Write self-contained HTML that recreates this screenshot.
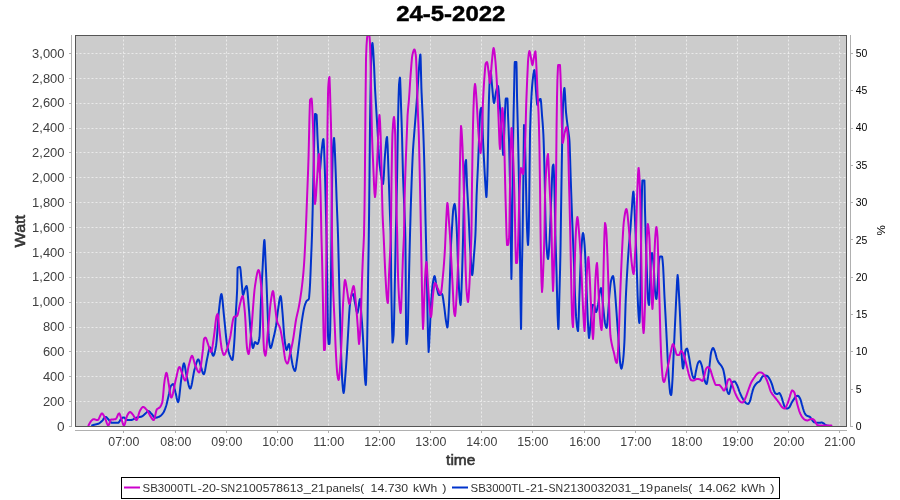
<!DOCTYPE html>
<html><head><meta charset="utf-8"><title>24-5-2022</title>
<style>html,body{margin:0;padding:0;background:#fff}svg{display:block}text{font-family:"Liberation Sans",sans-serif}text{filter:grayscale(1)}</style></head>
<body>
<svg width="900" height="500" viewBox="0 0 900 500">
<rect width="900" height="500" fill="#fff"/>
<text x="450.8" y="21.2" font-size="21.6" font-weight="bold" text-anchor="middle" textLength="109.2" lengthAdjust="spacingAndGlyphs" fill="#000" stroke="#000" stroke-width="0.45">24-5-2022</text>
<rect x="75" y="35" width="772" height="392" fill="#cccccc"/>
<path d="M75.5 426.5H847M75.5 401.5H847M75.5 376.5H847M75.5 351.5H847M75.5 327.5H847M75.5 302.5H847M75.5 277.5H847M75.5 252.5H847M75.5 227.5H847M75.5 202.5H847M75.5 177.5H847M75.5 152.5H847M75.5 128.5H847M75.5 103.5H847M75.5 78.5H847M75.5 53.5H847M123.5 35.5V427M175.5 35.5V427M226.5 35.5V427M277.5 35.5V427M328.5 35.5V427M379.5 35.5V427M430.5 35.5V427M481.5 35.5V427M532.5 35.5V427M584.5 35.5V427M635.5 35.5V427M686.5 35.5V427M737.5 35.5V427M788.5 35.5V427M839.5 35.5V427" stroke="#fff" stroke-width="0.6" stroke-dasharray="2 2" fill="none"/>
<clipPath id="c"><rect x="75" y="35" width="772" height="392"/></clipPath>
<g clip-path="url(#c)" fill="none" stroke-width="2" stroke-linejoin="round" stroke-linecap="round">
<path stroke="#0033cc" d="M92.1 425.5L92.6 425.3L93.1 425.1L93.6 425.0L94.1 424.8L94.6 424.7L94.8 424.6L95.1 424.5L95.6 424.4L96.1 424.3L96.6 424.2L97.1 424.1L97.6 424.0L98.1 423.8L98.4 423.7L98.6 423.6L99.1 423.4L99.6 423.0L100.1 422.7L100.6 422.3L101.1 421.8L101.6 421.4L102.0 421.0L102.1 420.9L102.6 420.3L103.1 419.6L103.6 418.8L104.1 418.1L104.6 417.5L105.1 417.0L105.6 416.9L105.6 416.9L106.1 417.0L106.6 417.4L107.1 417.9L107.6 418.5L108.1 419.0L108.3 419.2L108.6 419.5L109.1 420.1L109.6 420.8L110.1 421.4L110.6 422.0L111.1 422.5L111.6 422.7L111.9 422.8L112.1 422.8L112.6 422.8L113.1 422.8L113.6 422.8L114.1 422.8L114.6 422.8L115.1 422.8L115.6 422.8L116.1 422.8L116.6 422.8L117.1 422.8L117.6 422.8L118.1 422.8L118.2 422.8L118.6 422.6L119.1 422.0L119.6 421.2L120.1 420.3L120.6 419.5L120.9 419.2L121.1 419.0L121.6 418.6L122.1 418.1L122.6 417.7L123.1 417.5L123.6 417.4L123.6 417.4L124.1 417.5L124.6 417.9L125.1 418.4L125.6 419.0L126.1 419.5L126.6 419.9L127.1 420.1L127.2 420.1L127.6 420.1L128.1 420.1L128.6 420.1L129.1 420.1L129.6 420.1L130.1 420.1L130.6 420.1L130.8 420.1L131.1 420.1L131.6 420.0L132.1 419.8L132.6 419.6L133.1 419.4L133.6 419.1L134.1 418.8L134.6 418.5L135.1 418.2L135.6 418.0L136.1 417.8L136.2 417.8L136.6 417.6L137.1 417.5L137.6 417.4L138.1 417.3L138.6 417.2L139.1 417.1L139.6 417.0L140.1 416.9L140.6 416.8L141.1 416.7L141.6 416.5L141.6 416.5L142.1 416.3L142.6 416.0L143.1 415.6L143.6 415.2L144.1 414.7L144.6 414.3L145.1 413.9L145.2 413.8L145.6 413.4L146.1 412.9L146.6 412.4L147.1 411.8L147.6 411.4L148.1 411.2L148.4 411.1L148.6 411.1L149.1 411.3L149.6 411.7L150.1 412.2L150.6 412.8L151.1 413.4L151.5 413.8L151.6 413.9L152.1 414.5L152.6 415.2L153.1 415.9L153.6 416.6L154.1 417.2L154.6 417.6L155.1 417.8L155.1 417.8L155.6 417.7L156.1 417.7L156.6 417.6L157.1 417.5L157.6 417.3L158.1 417.1L158.6 416.9L159.1 416.7L159.6 416.5L159.6 416.5L160.1 416.2L160.6 415.9L161.1 415.4L161.6 414.9L162.1 414.4L162.6 413.7L163.1 413.0L163.2 412.9L163.6 412.3L164.1 411.3L164.6 410.1L165.1 408.9L165.6 407.5L165.9 406.6L166.1 406.0L166.6 404.2L167.1 402.2L167.6 400.1L168.1 397.9L168.6 395.8L168.6 395.8L169.1 393.5L169.6 390.9L170.1 388.5L170.6 386.6L170.9 385.9L171.1 385.7L171.6 385.1L172.1 384.6L172.6 384.2L173.1 384.1L173.1 384.1L173.6 384.8L174.1 386.4L174.6 388.6L175.1 390.9L175.4 392.2L175.6 392.8L176.1 395.0L176.6 397.5L177.1 399.7L177.6 401.4L178.1 402.1L178.1 402.1L178.6 401.1L179.1 398.2L179.6 394.0L180.1 389.2L180.6 384.4L181.1 380.3L181.2 379.6L181.6 376.7L182.1 372.8L182.6 368.9L183.1 365.7L183.6 363.8L183.9 363.4L184.1 363.5L184.6 365.0L185.1 367.5L185.6 370.5L186.1 373.5L186.6 376.0L186.6 376.0L187.1 378.2L187.6 380.5L188.1 382.8L188.6 384.9L189.1 386.7L189.6 388.0L190.1 388.6L190.2 388.6L190.6 388.3L191.1 387.0L191.6 385.0L192.1 382.5L192.6 379.6L193.1 376.7L193.6 373.8L194.1 371.2L194.6 369.1L194.7 368.8L195.1 367.5L195.6 365.7L196.1 364.0L196.6 362.4L197.1 361.0L197.6 360.0L198.1 359.5L198.3 359.4L198.6 359.6L199.1 360.6L199.6 362.1L200.1 364.0L200.6 365.8L201.0 367.0L201.1 367.3L201.6 368.9L202.1 370.7L202.6 372.3L203.1 373.6L203.6 374.2L203.7 374.2L204.1 373.8L204.6 372.4L205.1 370.2L205.6 367.4L206.1 364.4L206.6 361.5L207.1 358.9L207.3 358.0L207.6 356.6L208.1 354.0L208.6 351.4L209.1 349.2L209.6 347.6L210.0 347.2L210.1 347.2L210.6 348.0L211.1 349.5L211.6 351.4L212.1 353.4L212.6 355.0L213.1 355.8L213.2 355.8L213.6 355.6L214.1 354.6L214.6 352.9L215.1 350.7L215.6 348.2L216.0 346.0L216.1 345.4L216.6 341.0L217.1 334.8L217.6 327.7L218.1 320.5L218.6 314.0L219.0 310.0L219.1 309.1L219.6 304.6L220.1 300.3L220.6 296.6L221.1 294.4L221.4 294.0L221.6 294.2L222.1 296.7L222.6 301.1L223.1 306.5L223.6 312.1L224.0 316.0L224.1 316.9L224.6 321.8L225.1 327.0L225.6 332.3L226.1 337.2L226.6 341.4L227.0 344.0L227.1 344.6L227.6 347.2L228.1 349.5L228.6 351.6L229.1 353.4L229.6 355.0L230.0 356.0L230.1 356.2L230.6 357.4L231.1 358.5L231.6 359.4L232.1 359.9L232.4 360.0L232.6 359.7L233.1 356.3L233.6 350.8L234.0 346.0L234.1 344.8L234.6 337.1L235.1 327.7L235.6 317.7L236.0 310.0L236.1 308.3L236.6 300.6L237.1 290.7L237.2 288.0L237.6 268.0L237.6 268.0L238.1 267.5L238.6 267.3L239.1 267.1L239.6 267.0L240.0 267.0L240.1 267.1L240.6 270.4L241.1 276.3L241.6 282.0L241.6 282.0L242.1 287.7L242.6 293.2L243.0 295.0L243.1 295.0L243.6 294.0L244.1 292.2L244.6 290.2L245.0 289.0L245.1 288.8L245.6 287.5L246.1 286.5L246.6 286.0L246.6 286.0L247.1 287.8L247.6 292.3L248.1 298.4L248.6 305.1L249.0 310.0L249.1 311.2L249.6 317.9L250.1 325.2L250.6 331.9L251.0 336.0L251.1 336.8L251.6 341.0L252.1 344.7L252.6 347.3L253.0 348.0L253.1 348.0L253.6 346.7L254.1 344.6L254.6 342.6L255.0 342.0L255.1 342.0L255.6 342.3L256.1 342.9L256.6 343.5L257.1 343.9L257.4 344.0L257.6 343.9L258.1 343.2L258.6 341.7L259.1 339.6L259.4 338.0L259.6 336.0L260.1 325.1L260.6 310.4L261.0 300.0L261.1 297.8L261.6 287.3L262.1 277.2L262.6 268.0L262.6 268.0L263.1 258.1L263.6 248.2L264.1 241.3L264.4 240.0L264.6 241.1L265.1 250.2L265.6 262.0L265.6 262.0L266.1 273.0L266.6 285.0L266.6 285.0L267.1 298.7L267.6 312.0L267.6 312.0L268.1 324.0L268.6 334.7L269.0 340.0L269.1 340.8L269.6 344.4L270.1 347.0L270.6 348.0L270.6 348.0L271.1 347.4L271.6 345.9L272.1 343.9L272.6 341.7L273.0 340.0L273.1 339.6L273.6 337.6L274.1 335.6L274.6 333.3L275.1 330.9L275.6 328.3L276.0 326.0L276.1 325.4L276.6 321.6L277.1 317.2L277.6 312.9L278.0 310.0L278.1 309.3L278.6 305.8L279.1 302.2L279.6 299.1L280.1 296.9L280.6 296.0L280.6 296.0L281.1 297.8L281.6 302.3L282.1 308.2L282.6 314.0L282.6 314.0L283.1 320.4L283.6 327.9L284.1 334.9L284.6 340.0L284.6 340.0L285.1 343.6L285.6 346.8L286.1 349.1L286.6 350.0L286.6 350.0L287.1 349.3L287.6 347.7L288.1 345.9L288.6 344.4L289.0 344.0L289.1 344.1L289.6 345.9L290.1 349.4L290.6 353.4L291.0 356.0L291.1 356.6L291.6 359.4L292.1 362.3L292.6 364.9L293.1 367.1L293.4 368.0L293.6 368.5L294.1 369.8L294.6 370.7L295.0 371.0L295.1 371.0L295.6 369.4L296.1 366.5L296.6 362.8L297.0 360.0L297.1 359.3L297.6 355.6L298.1 351.5L298.6 347.3L299.0 344.0L299.1 343.2L299.6 339.0L300.1 334.8L300.6 330.6L301.1 326.5L301.6 322.7L302.0 320.0L302.1 319.4L302.6 316.2L303.1 313.2L303.6 310.4L304.1 308.0L304.6 306.0L304.6 306.0L305.1 304.4L305.6 303.0L306.1 301.8L306.6 301.0L306.6 301.0L307.1 300.5L307.6 300.2L308.1 299.9L308.6 299.3L308.8 299.0L309.1 297.4L309.6 291.3L310.0 285.0L310.1 283.3L310.6 271.5L311.0 261.0L311.1 258.5L311.6 246.3L312.0 235.0L312.1 231.7L312.6 212.2L313.0 195.0L313.1 190.7L313.6 167.5L314.0 150.0L314.1 145.8L314.6 122.8L315.0 114.0L315.1 114.0L315.6 114.1L316.1 114.4L316.6 115.0L316.6 115.0L317.1 126.2L317.4 135.0L317.6 139.3L318.1 149.3L318.6 158.0L318.6 158.0L319.1 167.0L319.6 172.0L319.6 172.0L320.1 169.4L320.6 163.3L321.1 156.4L321.5 152.0L321.6 151.2L322.1 146.6L322.6 142.4L323.1 139.5L323.4 139.0L323.6 139.9L324.1 148.6L324.6 162.7L325.0 175.0L325.1 178.1L325.6 197.9L326.0 215.0L326.1 219.0L326.6 240.0L326.6 240.0L327.1 269.6L327.4 290.0L327.6 306.6L328.0 335.0L328.1 337.4L328.6 344.0L328.6 344.0L329.1 344.0L329.4 344.0L329.6 342.9L330.1 332.7L330.2 330.0L330.6 307.3L331.0 275.0L331.1 267.2L331.6 225.0L331.6 225.0L332.1 181.0L332.2 175.0L332.6 158.2L333.0 148.0L333.1 146.4L333.6 140.0L334.0 138.0L334.1 138.2L334.6 144.7L335.1 156.9L335.6 170.0L335.6 170.0L336.1 184.1L336.6 199.0L336.6 199.0L337.1 211.5L337.6 223.6L338.0 235.0L338.1 238.3L338.6 258.2L339.0 275.0L339.1 279.0L339.6 299.4L340.0 315.0L340.1 318.7L340.6 337.2L341.0 350.0L341.1 352.9L341.6 366.8L342.1 378.3L342.4 383.0L342.6 385.4L343.1 390.7L343.6 393.0L343.6 393.0L344.1 390.8L344.6 385.4L345.1 378.8L345.4 375.0L345.6 372.5L346.1 365.7L346.6 358.2L347.0 352.0L347.1 350.4L347.6 342.0L348.1 333.2L348.4 328.0L348.6 324.5L349.1 315.3L349.6 308.0L349.6 308.0L350.1 302.9L350.6 298.8L351.0 297.0L351.1 296.7L351.6 295.6L352.1 294.7L352.6 294.1L353.0 294.0L353.1 294.0L353.6 295.4L354.1 298.0L354.6 301.0L355.0 303.0L355.1 303.4L355.6 306.0L356.1 308.8L356.6 311.2L357.1 312.7L357.4 313.0L357.6 312.8L358.1 310.5L358.6 306.8L359.1 302.9L359.6 299.9L360.0 299.0L360.1 299.1L360.6 303.4L361.1 310.8L361.4 315.0L361.6 317.6L362.1 324.2L362.6 331.5L363.0 338.0L363.1 339.8L363.6 350.3L364.0 359.0L364.1 361.1L364.6 372.4L365.0 379.0L365.1 380.1L365.6 384.5L365.8 385.0L366.1 380.9L366.6 365.0L366.6 365.0L367.1 345.1L367.3 335.0L367.6 315.0L368.0 285.0L368.1 278.5L368.6 248.4L368.8 235.0L369.1 211.4L369.4 185.0L369.6 164.9L370.0 125.0L370.1 117.2L370.6 85.0L370.6 85.0L371.1 63.2L371.4 55.0L371.6 51.4L372.1 44.4L372.4 43.0L372.6 43.6L373.1 48.9L373.6 57.6L374.0 65.0L374.1 66.9L374.6 78.7L375.0 88.0L375.1 89.9L375.6 98.8L376.1 106.9L376.6 115.0L376.6 115.0L377.1 123.1L377.6 131.2L378.0 138.0L378.1 139.8L378.6 150.2L379.0 157.0L379.1 158.2L379.6 163.9L380.1 168.5L380.6 172.4L381.0 175.0L381.1 175.6L381.6 178.7L382.1 181.5L382.6 183.4L383.0 184.0L383.1 183.8L383.6 179.1L384.1 170.4L384.6 160.9L385.0 155.0L385.1 153.9L385.6 147.8L386.1 142.2L386.6 138.2L387.0 137.0L387.1 137.3L387.6 145.4L388.1 160.0L388.6 175.0L388.6 175.0L389.1 188.6L389.6 203.1L390.0 215.0L390.1 217.8L390.6 231.5L390.8 240.0L391.1 270.5L391.2 280.0L391.6 305.3L391.9 320.0L392.1 329.9L392.5 342.6L392.6 342.5L393.1 340.0L393.6 335.0L393.6 335.0L394.1 319.7L394.6 294.7L394.8 285.0L395.1 270.5L395.6 244.8L395.8 235.0L396.1 221.4L396.6 199.8L397.0 181.0L397.1 175.7L397.6 146.3L397.8 135.0L398.1 119.0L398.4 105.0L398.6 96.8L399.0 85.0L399.1 83.8L399.6 79.0L400.0 77.6L400.1 78.1L400.6 91.2L401.0 105.0L401.1 107.8L401.6 122.2L402.0 135.0L402.1 138.6L402.6 159.7L403.0 175.0L403.1 178.0L403.6 191.0L404.1 202.4L404.6 215.0L404.6 215.0L405.1 227.8L405.4 240.0L405.6 260.8L405.8 290.0L406.1 335.0L406.1 335.0L406.5 344.0L406.6 343.9L407.1 340.9L407.6 335.0L407.6 335.0L408.1 319.0L408.6 294.1L408.8 285.0L409.1 272.3L409.6 251.0L410.0 235.0L410.1 231.2L410.6 213.2L411.0 200.0L411.1 196.9L411.6 182.4L412.0 172.0L412.1 169.5L412.6 157.8L413.0 150.0L413.1 148.4L413.6 141.2L414.1 135.0L414.5 130.0L414.6 128.7L415.1 122.4L415.6 116.1L416.0 111.0L416.1 109.7L416.6 103.0L417.1 96.2L417.4 92.0L417.6 89.0L418.1 81.1L418.6 73.3L419.0 68.0L419.1 66.8L419.6 60.3L420.1 55.4L420.4 54.4L420.6 57.0L421.1 76.8L421.4 88.0L421.6 93.1L422.1 104.1L422.6 115.0L422.6 115.0L423.1 127.0L423.4 135.0L423.6 140.8L424.1 156.5L424.6 175.0L424.6 175.0L425.1 199.9L425.4 215.0L425.6 223.6L426.0 240.0L426.1 244.3L426.6 266.5L427.0 285.0L427.1 289.9L427.6 316.8L428.0 335.0L428.1 338.7L428.6 352.0L428.6 352.0L429.1 345.9L429.6 335.0L429.6 335.0L430.1 324.2L430.6 312.7L431.0 305.0L431.1 303.4L431.6 295.9L432.1 289.5L432.6 285.0L432.6 285.0L433.1 281.7L433.6 278.8L434.1 276.8L434.6 276.0L434.6 276.0L435.1 277.3L435.6 280.5L436.1 284.1L436.6 287.0L436.6 287.0L437.1 289.2L437.6 291.4L438.1 293.4L438.6 294.6L439.0 295.0L439.1 295.0L439.6 294.9L440.1 294.7L440.6 294.5L441.1 294.2L441.6 294.0L442.0 294.0L442.1 294.0L442.6 295.6L443.1 298.5L443.6 302.2L444.0 305.0L444.1 305.7L444.6 309.6L445.1 314.1L445.6 318.3L446.0 321.0L446.1 321.6L446.6 324.6L447.1 326.9L447.4 327.4L447.6 326.9L448.1 321.7L448.6 312.9L449.0 305.0L449.1 302.8L449.6 288.0L450.0 275.0L450.1 271.9L450.6 255.8L451.0 245.0L451.1 242.9L451.6 234.2L452.0 228.0L452.1 226.4L452.6 217.6L453.1 210.8L453.2 210.0L453.6 207.4L454.1 205.0L454.6 204.0L454.6 204.0L455.1 206.1L455.6 211.2L456.0 216.0L456.1 217.3L456.6 226.1L457.0 235.0L457.1 237.5L457.6 253.0L458.0 265.0L458.1 267.5L458.6 280.0L459.1 290.5L459.4 295.0L459.6 297.4L460.1 302.7L460.6 305.0L460.6 305.0L461.1 299.3L461.6 286.4L462.0 275.0L462.1 272.2L462.6 255.4L463.0 240.0L463.1 235.9L463.6 212.1L464.0 195.0L464.1 191.4L464.6 174.3L465.0 166.0L465.1 165.0L465.6 161.2L466.0 160.0L466.1 160.5L466.6 173.1L467.0 185.0L467.1 187.1L467.6 196.6L468.1 205.4L468.6 215.0L468.6 215.0L469.1 226.7L469.6 238.0L469.6 238.0L470.1 247.1L470.6 255.1L470.8 258.0L471.1 262.6L471.6 270.4L472.1 274.8L472.2 275.0L472.6 273.3L473.1 267.8L473.6 260.6L474.0 255.0L474.1 253.8L474.6 247.6L475.1 240.5L475.4 235.0L475.6 230.0L476.1 212.1L476.6 195.0L476.6 195.0L477.1 183.5L477.6 173.5L478.0 165.0L478.1 162.7L478.6 150.1L479.1 137.4L479.2 135.0L479.6 124.2L480.1 113.1L480.2 112.0L480.6 109.2L481.0 108.0L481.1 108.0L481.6 108.0L482.0 108.0L482.1 108.9L482.6 127.8L482.8 135.0L483.1 142.2L483.6 152.4L484.0 160.0L484.1 161.9L484.6 171.5L485.1 180.4L485.4 185.0L485.6 188.1L486.1 195.3L486.4 197.0L486.6 195.7L487.1 184.3L487.4 175.0L487.6 167.1L488.1 140.2L488.2 135.0L488.6 113.8L488.8 105.0L489.1 94.5L489.6 82.0L489.6 82.0L490.1 74.5L490.6 71.0L490.6 71.0L491.1 74.0L491.6 80.3L492.0 85.0L492.1 86.0L492.6 91.7L493.1 97.5L493.6 101.7L494.0 103.0L494.1 102.9L494.6 101.1L495.1 97.7L495.6 94.1L496.0 92.0L496.1 91.6L496.6 89.6L497.1 87.7L497.6 86.4L498.0 86.0L498.1 86.1L498.6 90.2L499.1 97.1L499.4 101.0L499.6 103.3L500.1 109.3L500.6 115.6L501.0 121.0L501.1 122.4L501.6 130.3L502.1 138.4L502.2 140.0L502.6 147.5L503.1 154.7L503.2 155.0L503.6 150.2L504.1 137.5L504.2 135.0L504.6 123.2L505.0 112.0L505.1 109.8L505.6 99.9L505.8 98.6L506.1 98.6L506.6 98.6L507.1 98.6L507.4 98.6L507.6 101.7L508.0 115.0L508.1 117.5L508.6 129.1L509.0 140.0L509.1 143.4L509.6 164.7L510.0 185.0L510.1 190.4L510.6 221.5L510.8 235.0L511.1 262.1L511.4 279.0L511.6 271.1L512.0 235.0L512.1 227.0L512.6 185.0L512.6 185.0L513.1 141.9L513.2 135.0L513.6 113.2L514.0 95.0L514.1 90.1L514.6 65.5L514.8 62.0L515.1 62.0L515.6 62.0L516.1 62.0L516.4 62.0L516.6 68.5L517.0 95.0L517.1 99.5L517.6 119.0L518.0 135.0L518.1 139.5L518.6 163.6L519.0 185.0L519.1 190.6L519.6 220.8L519.8 235.0L520.1 262.4L520.4 290.0L520.6 306.9L521.0 329.0L521.1 327.3L521.6 289.9L521.8 275.0L522.1 259.8L522.6 235.0L522.6 235.0L523.1 199.1L523.4 175.0L523.6 155.0L524.0 125.0L524.1 125.2L524.6 131.5L525.0 140.0L525.1 142.7L525.6 165.0L526.0 185.0L526.1 189.5L526.6 213.6L527.0 228.0L527.1 230.4L527.6 241.4L528.0 245.0L528.1 244.6L528.6 234.4L528.8 228.0L529.1 209.8L529.4 185.0L529.6 167.2L530.0 135.0L530.1 130.6L530.6 114.1L531.0 105.0L531.1 103.0L531.6 93.8L532.1 86.4L532.6 81.0L532.6 81.0L533.1 76.6L533.6 72.9L534.1 70.5L534.4 70.0L534.6 70.7L535.1 76.6L535.6 85.2L536.0 91.0L536.1 92.2L536.6 98.7L537.1 103.9L537.4 105.0L537.6 104.8L538.1 103.1L538.6 101.0L539.0 100.0L539.1 99.9L539.6 99.4L540.1 99.1L540.6 99.0L540.6 99.0L541.1 102.2L541.6 109.2L542.0 115.0L542.1 116.3L542.6 122.4L543.1 129.5L543.4 135.0L543.6 139.6L544.1 155.5L544.6 175.0L544.6 175.0L545.1 200.7L545.4 215.0L545.6 222.6L546.1 238.1L546.2 240.0L546.6 246.5L547.1 253.3L547.6 257.8L548.0 259.0L548.1 258.9L548.6 255.3L549.1 248.3L549.6 240.0L549.6 240.0L550.1 228.6L550.6 215.0L550.6 215.0L551.1 202.4L551.6 190.0L551.6 190.0L552.1 176.2L552.6 167.0L552.6 167.0L553.1 165.0L553.4 164.6L553.6 165.9L554.1 177.7L554.6 195.0L554.6 195.0L555.1 220.0L555.4 235.0L555.6 242.6L556.1 258.7L556.6 275.0L556.6 275.0L557.1 296.6L557.6 315.0L557.6 315.0L558.1 326.3L558.4 329.0L558.6 326.6L559.1 307.8L559.4 295.0L559.6 287.8L560.1 268.8L560.4 255.0L560.6 243.1L561.0 215.0L561.1 208.3L561.6 175.0L561.6 175.0L562.1 145.2L562.2 140.0L562.6 119.5L563.0 105.0L563.1 103.0L563.6 94.4L564.1 89.0L564.4 88.0L564.6 88.8L565.1 95.9L565.6 105.8L566.0 112.0L566.1 113.1L566.6 117.9L567.1 122.0L567.6 125.8L568.0 129.0L568.1 129.8L568.6 133.1L569.1 136.8L569.4 140.0L569.6 143.5L570.1 158.4L570.6 175.0L570.6 175.0L571.1 189.6L571.6 204.0L572.0 215.0L572.1 217.6L572.6 230.1L573.0 240.0L573.1 242.5L573.6 254.7L574.0 265.0L574.1 267.8L574.6 283.8L575.0 295.0L575.1 297.2L575.6 307.9L576.1 316.9L576.6 323.0L576.6 323.0L577.1 327.1L577.6 330.1L578.0 331.0L578.1 330.6L578.6 320.6L579.1 304.0L579.4 295.0L579.6 289.7L580.1 275.8L580.6 262.8L581.0 255.0L581.1 253.4L581.6 245.7L582.1 238.9L582.6 234.3L583.0 233.0L583.1 233.1L583.6 235.2L584.1 239.6L584.6 245.0L584.6 245.0L585.1 253.4L585.6 265.2L586.0 275.0L586.1 277.4L586.6 290.5L587.1 303.8L587.4 311.0L587.6 315.5L588.1 326.0L588.4 331.0L588.6 334.1L589.0 338.0L589.1 337.9L589.6 334.4L590.1 329.0L590.2 328.0L590.6 323.9L591.1 318.3L591.4 315.0L591.6 312.6L592.1 306.5L592.4 305.0L592.6 305.0L593.1 305.0L593.6 305.0L594.0 305.0L594.1 305.1L594.6 306.5L595.1 309.0L595.6 311.3L596.0 312.0L596.1 312.0L596.6 311.1L597.1 309.2L597.6 306.9L598.0 305.0L598.1 304.5L598.6 301.1L599.1 297.0L599.6 293.2L600.0 291.0L600.1 290.6L600.6 288.7L601.0 288.0L601.1 288.1L601.6 290.6L602.1 295.4L602.6 301.0L603.0 305.0L603.1 305.9L603.6 310.9L604.1 316.1L604.6 320.5L605.0 323.0L605.1 323.5L605.6 325.6L606.1 327.3L606.6 328.0L606.6 328.0L607.1 325.5L607.6 319.9L608.0 315.0L608.1 313.8L608.6 306.5L609.1 298.8L609.4 295.0L609.6 292.8L610.1 287.6L610.6 283.3L611.0 281.0L611.1 280.6L611.6 278.8L612.1 277.2L612.6 276.3L613.0 276.0L613.1 276.1L613.6 278.2L614.1 282.3L614.6 287.0L614.6 287.0L615.1 292.6L615.6 299.4L616.0 305.0L616.1 306.4L616.6 313.5L617.1 320.8L617.4 325.0L617.6 327.6L618.1 333.9L618.4 338.0L618.6 341.1L619.1 349.5L619.4 354.0L619.6 356.6L620.1 362.6L620.4 365.0L620.6 366.1L621.1 368.2L621.4 368.6L621.6 368.4L622.1 366.7L622.6 363.8L623.0 361.0L623.1 360.2L623.6 355.0L624.1 347.5L624.4 342.0L624.6 337.1L625.1 319.5L625.6 303.0L625.6 303.0L626.1 291.7L626.6 281.9L627.1 273.2L627.6 265.0L627.6 265.0L628.1 257.2L628.6 250.2L629.0 245.0L629.1 243.8L629.6 238.5L630.1 233.2L630.2 232.0L630.6 226.6L631.1 219.0L631.6 212.0L631.6 212.0L632.1 204.8L632.6 197.6L633.1 192.6L633.4 191.6L633.6 192.4L634.1 199.5L634.6 210.8L635.0 220.0L635.1 222.2L635.6 234.3L636.0 245.0L636.1 247.8L636.6 262.7L637.0 275.0L637.1 278.1L637.6 294.7L638.0 305.0L638.1 306.8L638.6 315.7L639.1 321.8L639.4 323.0L639.6 321.4L640.1 307.3L640.4 295.0L640.6 282.7L641.0 250.0L641.1 242.8L641.6 210.0L641.6 210.0L642.1 186.4L642.4 180.4L642.6 180.4L643.1 180.4L643.6 180.4L644.1 180.4L644.4 180.4L644.6 186.2L645.0 210.0L645.1 214.0L645.6 232.0L646.0 245.0L646.1 248.2L646.6 263.7L647.0 275.0L647.1 277.7L647.6 291.7L648.0 299.0L648.1 299.9L648.6 303.8L649.0 305.0L649.1 304.6L649.6 295.3L650.0 285.0L650.1 282.5L650.6 267.4L651.0 259.0L651.1 258.0L651.6 254.2L652.0 253.0L652.1 253.1L652.6 255.3L653.1 259.7L653.6 265.0L653.6 265.0L654.1 273.8L654.6 284.9L655.0 291.0L655.1 291.9L655.6 295.9L656.1 298.5L656.4 299.0L656.6 298.3L657.1 292.6L657.6 285.0L657.6 285.0L658.1 275.9L658.6 266.0L659.0 261.0L659.1 260.3L659.6 257.5L660.0 256.6L660.1 256.6L660.6 256.6L661.1 256.6L661.6 256.6L662.0 256.6L662.1 256.7L662.6 260.3L663.0 265.0L663.1 266.3L663.6 276.2L664.1 288.3L664.4 295.0L664.6 298.9L665.1 308.3L665.6 317.4L666.0 325.0L666.1 326.9L666.6 336.9L667.0 345.0L667.1 347.0L667.6 357.3L668.0 365.0L668.1 366.8L668.6 375.4L669.0 381.0L669.1 382.2L669.6 388.1L670.1 392.7L670.4 394.0L670.6 394.4L671.1 395.0L671.2 395.0L671.6 392.7L672.1 385.7L672.4 381.0L672.6 377.6L673.1 366.7L673.6 355.0L673.6 355.0L674.1 344.0L674.6 333.0L674.6 333.0L675.1 322.4L675.6 312.0L675.6 312.0L676.1 301.1L676.6 291.0L676.6 291.0L677.1 280.7L677.6 275.0L677.6 275.0L678.1 278.9L678.6 287.6L679.0 295.0L679.1 296.7L679.6 306.4L680.0 315.0L680.1 317.3L680.6 330.0L681.0 340.0L681.1 342.3L681.6 353.7L681.8 357.0L682.1 361.1L682.6 366.8L683.0 368.6L683.1 368.5L683.6 365.9L684.1 361.5L684.4 359.0L684.6 357.4L685.1 352.8L685.6 350.0L685.6 350.0L686.1 349.2L686.6 348.7L687.0 348.6L687.1 348.6L687.6 349.8L688.1 352.1L688.6 354.9L689.0 357.0L689.1 357.5L689.6 360.4L690.1 363.7L690.6 366.8L691.0 369.0L691.1 369.5L691.6 371.9L692.1 374.2L692.6 376.0L693.0 377.0L693.1 377.2L693.6 378.0L694.1 378.5L694.4 378.6L694.6 378.4L695.1 376.3L695.6 373.2L696.0 371.0L696.1 370.6L696.6 368.2L697.1 365.9L697.6 364.0L698.0 363.0L698.1 362.8L698.6 361.9L699.1 361.3L699.6 361.0L699.6 361.0L700.1 361.4L700.6 362.3L701.1 363.6L701.6 365.0L701.6 365.0L702.1 366.9L702.6 369.6L703.1 372.5L703.6 375.0L703.6 375.0L704.1 377.4L704.6 379.7L705.1 381.7L705.6 383.0L705.6 383.0L706.1 383.7L706.6 384.0L706.6 384.0L707.1 382.6L707.6 379.6L708.0 377.0L708.1 376.4L708.6 372.9L709.1 369.0L709.6 365.0L709.6 365.0L710.1 360.3L710.6 355.5L711.0 353.0L711.1 352.6L711.6 350.7L712.1 349.2L712.6 348.3L713.0 348.0L713.1 348.0L713.6 348.5L714.1 349.6L714.6 350.9L715.0 352.0L715.1 352.3L715.6 353.9L716.1 355.9L716.6 357.8L717.0 359.0L717.1 359.3L717.6 360.4L718.1 361.5L718.6 362.4L719.0 363.0L719.1 363.1L719.6 363.8L720.1 364.3L720.6 364.9L721.0 365.4L721.1 365.5L721.6 366.3L722.1 367.1L722.6 368.1L723.0 369.0L723.1 369.3L723.6 371.1L724.1 373.5L724.4 375.0L724.6 376.1L725.1 379.3L725.6 382.7L726.0 385.0L726.1 385.5L726.6 388.0L727.1 390.3L727.6 392.1L728.0 393.0L728.1 393.1L728.6 393.8L729.0 394.0L729.1 394.0L729.6 392.6L730.1 390.3L730.4 389.0L730.6 388.2L731.1 386.0L731.6 383.9L732.0 383.0L732.1 382.9L732.6 382.3L733.1 381.9L733.6 381.6L734.1 381.4L734.4 381.4L734.6 381.4L735.1 381.8L735.6 382.5L736.1 383.3L736.6 384.3L737.0 385.0L737.1 385.2L737.6 386.3L738.1 387.7L738.6 389.1L739.1 390.6L739.6 392.0L740.0 393.0L740.1 393.2L740.6 394.3L741.1 395.4L741.6 396.5L742.1 397.4L742.6 398.3L743.0 399.0L743.1 399.2L743.6 400.0L744.1 400.7L744.6 401.5L745.1 402.1L745.6 402.7L746.0 403.0L746.1 403.1L746.6 403.4L747.1 403.7L747.6 403.9L748.0 404.0L748.1 404.0L748.6 403.6L749.1 402.9L749.6 401.9L750.0 401.0L750.1 400.8L750.6 399.1L751.1 396.9L751.6 394.6L752.0 393.0L752.1 392.7L752.6 390.9L753.1 389.3L753.6 387.9L754.0 387.0L754.1 386.8L754.6 385.9L755.1 385.2L755.6 384.5L756.1 383.9L756.6 383.4L757.0 383.0L757.1 382.9L757.6 382.5L758.1 382.2L758.6 381.9L759.1 381.6L759.6 381.2L760.0 380.8L760.1 380.7L760.6 379.9L761.1 378.8L761.6 377.8L762.1 376.9L762.4 376.6L762.6 376.4L763.1 376.1L763.6 375.8L764.1 375.5L764.6 375.4L764.8 375.4L765.1 375.4L765.6 375.5L766.1 375.6L766.6 375.8L767.1 376.0L767.2 376.0L767.6 376.2L768.1 376.8L768.6 377.4L769.1 378.2L769.6 379.0L769.6 379.0L770.1 379.9L770.6 380.9L771.1 382.1L771.6 383.3L772.0 384.4L772.1 384.7L772.6 386.4L773.1 388.2L773.6 389.9L773.8 390.4L774.1 391.1L774.6 392.3L775.1 393.2L775.4 393.4L775.6 393.5L776.1 393.7L776.6 393.9L777.1 394.0L777.4 394.0L777.6 394.0L778.1 393.7L778.6 393.3L779.1 393.0L779.2 393.0L779.6 393.2L780.1 394.0L780.6 395.0L781.0 395.8L781.1 396.0L781.6 397.3L782.1 398.9L782.6 400.6L782.8 401.2L783.1 402.2L783.6 403.9L784.1 405.5L784.6 406.6L784.6 406.6L785.1 407.3L785.6 407.8L786.1 408.3L786.6 408.6L787.0 408.6L787.1 408.6L787.6 408.5L788.1 408.3L788.6 407.9L789.1 407.5L789.4 407.2L789.6 407.0L790.1 406.1L790.6 405.0L791.1 403.9L791.6 402.8L791.8 402.4L792.1 401.9L792.6 401.1L793.1 400.4L793.6 399.7L794.1 398.9L794.2 398.8L794.6 398.1L795.1 397.2L795.6 396.5L796.0 396.2L796.1 396.1L796.6 396.0L797.1 395.9L797.6 395.8L797.8 395.8L798.1 395.9L798.6 396.2L799.1 396.9L799.6 397.7L800.1 398.6L800.2 398.8L800.6 399.8L801.1 401.5L801.6 403.4L802.0 404.8L802.1 405.1L802.6 406.9L803.1 408.7L803.6 410.2L803.8 410.8L804.1 411.6L804.6 412.8L805.1 413.9L805.6 414.6L805.6 414.6L806.1 415.1L806.6 415.5L807.1 415.8L807.6 416.0L808.0 416.2L808.1 416.2L808.6 416.4L809.1 416.5L809.6 416.7L809.8 416.8L810.1 417.0L810.6 417.7L811.1 418.5L811.6 419.2L811.6 419.2L812.1 419.9L812.6 420.7L813.1 421.4L813.6 421.9L814.0 422.2L814.1 422.2L814.6 422.4L815.1 422.6L815.6 422.7L816.1 422.8L816.4 422.8L816.6 422.8L817.1 422.8L817.6 422.8L818.1 422.8L818.6 422.8L819.1 422.8L819.4 422.8L819.6 422.8L820.1 422.8L820.6 422.7L821.1 422.6L821.6 422.6L821.8 422.6L822.1 422.6L822.6 422.8L823.1 423.1L823.6 423.4L823.6 423.4L824.1 423.7L824.6 424.2L825.1 424.6L825.6 425.0L826.0 425.2L826.1 425.2L826.6 425.4L827.1 425.6L827.6 425.7L828.1 425.8L828.4 425.8"/>
<path stroke="#cc00cc" d="M88.5 425.5L89.0 424.5L89.5 423.6L90.0 422.7L90.5 421.9L91.0 421.2L91.5 420.6L92.0 420.1L92.5 419.7L93.0 419.4L93.5 419.2L93.9 419.2L94.0 419.2L94.5 419.3L95.0 419.4L95.5 419.6L96.0 419.8L96.5 419.9L97.0 420.1L97.5 420.1L97.5 420.1L98.0 419.9L98.5 419.3L99.0 418.4L99.5 417.3L100.0 416.2L100.5 415.2L101.0 414.3L101.5 413.7L102.0 413.4L102.0 413.4L102.5 413.7L103.0 414.3L103.5 415.1L104.0 416.1L104.5 417.0L104.7 417.4L105.0 418.0L105.5 419.3L106.0 420.7L106.5 422.2L107.0 423.6L107.5 424.7L108.0 425.4L108.3 425.5L108.5 425.4L109.0 424.5L109.5 423.1L110.0 421.5L110.5 420.2L111.0 419.6L111.0 419.6L111.5 419.5L112.0 419.4L112.5 419.4L113.0 419.4L113.5 419.4L114.0 419.3L114.5 419.3L115.0 419.3L115.5 419.2L115.5 419.2L116.0 418.8L116.5 418.0L117.0 417.0L117.5 415.8L118.0 414.7L118.5 413.9L119.0 413.5L119.1 413.4L119.5 413.7L120.0 414.8L120.5 416.3L121.0 417.9L121.4 419.2L121.5 419.4L122.0 420.8L122.5 422.5L123.0 424.0L123.5 425.1L124.0 425.5L124.0 425.5L124.5 424.9L125.0 423.5L125.5 421.6L126.0 419.5L126.5 417.6L127.0 416.0L127.2 415.6L127.5 415.0L128.0 414.1L128.5 413.3L129.0 412.6L129.5 412.1L129.9 412.0L130.0 412.0L130.5 412.2L131.0 412.5L131.5 413.0L132.0 413.6L132.5 414.2L133.0 414.7L133.0 414.7L133.5 415.5L134.0 416.4L134.5 417.4L135.0 418.4L135.5 419.2L136.0 419.8L136.5 420.1L136.6 420.1L137.0 419.7L137.5 418.6L138.0 417.0L138.5 415.1L139.0 413.3L139.5 411.7L139.8 411.1L140.0 410.7L140.5 409.8L141.0 409.0L141.5 408.2L142.0 407.6L142.5 407.1L143.0 407.0L143.0 407.0L143.5 407.0L144.0 407.2L144.5 407.6L145.0 408.0L145.5 408.5L146.0 409.1L146.5 409.6L147.0 410.2L147.0 410.2L147.5 410.9L148.0 411.7L148.5 412.6L149.0 413.6L149.5 414.6L150.0 415.5L150.5 416.4L150.6 416.5L151.0 417.1L151.5 417.9L152.0 418.6L152.5 419.3L153.0 419.8L153.5 420.1L153.7 420.1L154.0 419.8L154.5 418.5L155.0 416.4L155.5 414.1L156.0 411.8L156.5 410.1L156.9 409.3L157.0 409.2L157.5 408.8L158.0 408.5L158.5 408.2L159.0 408.0L159.5 407.6L159.6 407.5L160.0 407.1L160.5 406.4L161.0 405.5L161.5 404.4L162.0 403.1L162.3 402.1L162.5 401.1L163.0 396.8L163.5 391.0L164.0 385.2L164.5 381.4L164.5 381.2L165.0 378.1L165.5 375.4L166.0 373.4L166.4 372.8L166.5 372.8L167.0 374.0L167.5 376.5L168.0 379.7L168.5 382.7L168.6 383.2L169.0 385.5L169.5 389.0L170.0 392.4L170.5 395.4L171.0 397.3L171.3 397.6L171.5 397.5L172.0 396.8L172.5 395.3L173.0 393.3L173.5 390.9L174.0 388.3L174.5 385.7L175.0 383.1L175.5 380.8L175.8 379.6L176.0 378.8L176.5 376.7L177.0 374.3L177.5 372.1L178.0 370.0L178.5 368.3L179.0 367.3L179.4 367.0L179.5 367.0L180.0 367.6L180.5 368.7L181.0 370.1L181.5 371.7L182.0 373.1L182.1 373.3L182.5 374.3L183.0 375.9L183.5 377.4L184.0 378.8L184.5 379.9L185.0 380.5L185.2 380.5L185.5 380.3L186.0 379.1L186.5 377.2L187.0 374.9L187.5 372.2L188.0 369.4L188.5 366.8L189.0 364.5L189.3 363.4L189.5 362.7L190.0 360.9L190.5 359.0L191.0 357.4L191.5 356.3L192.0 355.8L192.0 355.8L192.5 356.3L193.0 357.5L193.5 359.2L194.0 361.1L194.5 363.0L195.0 364.6L195.2 365.2L195.5 365.8L196.0 367.0L196.5 368.2L197.0 369.4L197.5 370.5L198.0 371.4L198.5 372.0L199.0 372.4L199.2 372.4L199.5 372.2L200.0 370.7L200.5 368.3L201.0 365.1L201.5 361.3L202.0 357.3L202.5 353.2L202.8 350.8L203.0 348.9L203.5 342.8L204.0 339.0L204.0 339.0L204.5 338.2L205.0 337.7L205.4 337.6L205.5 337.6L206.0 338.2L206.5 339.4L207.0 340.9L207.5 342.5L208.0 344.0L208.0 344.0L208.5 345.5L209.0 347.2L209.5 349.0L210.0 350.5L210.5 351.6L211.0 352.0L211.0 352.0L211.5 351.3L212.0 349.3L212.5 346.4L213.0 343.0L213.5 339.4L214.0 336.0L214.0 336.0L214.5 332.2L215.0 327.7L215.5 323.1L216.0 319.1L216.5 316.3L216.6 316.0L217.0 314.9L217.5 314.0L217.6 314.0L218.0 315.4L218.5 320.1L219.0 326.0L219.4 330.0L219.5 330.8L220.0 335.3L220.5 339.8L221.0 344.0L221.5 347.5L222.0 350.0L222.0 350.0L222.5 351.8L223.0 353.4L223.5 354.6L224.0 355.0L224.0 355.0L224.5 354.7L225.0 354.0L225.5 353.0L226.0 351.7L226.5 350.3L227.0 349.0L227.0 349.0L227.5 347.6L228.0 345.9L228.5 344.1L229.0 342.2L229.5 340.1L230.0 338.0L230.0 338.0L230.5 335.5L231.0 332.4L231.5 329.1L232.0 325.7L232.5 322.5L233.0 319.8L233.5 317.9L234.0 317.0L234.0 317.0L234.5 316.8L235.0 316.6L235.5 316.5L236.0 316.4L236.5 316.2L237.0 316.0L237.0 316.0L237.5 315.1L238.0 313.4L238.5 311.1L239.0 308.5L239.5 306.1L240.0 304.0L240.0 304.0L240.5 302.1L241.0 300.0L241.5 298.2L242.0 296.7L242.5 296.0L242.6 296.0L243.0 296.7L243.5 299.5L244.0 303.6L244.5 308.7L245.0 314.0L245.0 314.0L245.5 321.7L246.0 332.1L246.5 342.0L247.0 348.0L247.0 348.0L247.5 350.8L248.0 352.9L248.5 354.0L248.6 354.0L249.0 353.1L249.5 349.7L250.0 344.8L250.5 339.3L251.0 334.0L251.0 334.0L251.5 328.6L252.0 322.3L252.5 315.4L253.0 308.4L253.5 301.6L254.0 295.3L254.5 290.0L255.0 286.0L255.0 286.0L255.5 282.8L256.0 279.6L256.5 276.7L257.0 274.1L257.5 272.1L258.0 270.6L258.5 270.0L258.6 270.0L259.0 270.5L259.5 272.3L260.0 275.3L260.5 279.4L261.0 284.3L261.5 289.9L262.0 296.0L262.0 296.0L262.5 307.3L263.0 324.5L263.5 340.9L264.0 350.0L264.0 350.0L264.5 353.0L265.0 355.0L265.4 355.6L265.5 355.5L266.0 353.2L266.5 348.4L267.0 342.2L267.5 335.7L268.0 330.0L268.0 330.0L268.5 324.8L269.0 319.2L269.5 313.6L270.0 308.3L270.5 303.6L271.0 300.0L271.0 300.0L271.5 296.9L272.0 294.0L272.5 291.8L273.0 291.0L273.0 291.0L273.5 292.6L274.0 296.6L274.5 301.5L275.0 306.0L275.0 306.0L275.5 310.1L276.0 314.5L276.5 318.3L277.0 321.0L277.0 321.0L277.5 322.6L278.0 323.7L278.5 324.7L279.0 325.6L279.5 326.6L280.0 328.0L280.0 328.0L280.5 329.9L281.0 332.3L281.5 335.0L282.0 337.9L282.5 341.0L283.0 344.0L283.0 344.0L283.5 347.4L284.0 351.4L284.5 355.2L285.0 358.4L285.4 360.0L285.5 360.3L286.0 361.6L286.5 362.7L287.0 363.4L287.4 363.6L287.5 363.6L288.0 362.7L288.5 361.0L289.0 358.7L289.5 356.3L290.0 354.0L290.0 354.0L290.5 351.9L291.0 349.8L291.5 347.5L292.0 345.2L292.5 342.7L293.0 340.0L293.0 340.0L293.5 337.0L294.0 333.6L294.5 330.0L295.0 326.4L295.5 323.0L296.0 320.0L296.0 320.0L296.5 317.4L297.0 315.2L297.5 313.0L298.0 310.9L298.5 308.6L299.0 306.0L299.0 306.0L299.5 303.2L300.0 300.2L300.5 297.0L301.0 293.6L301.5 290.0L302.0 286.0L302.0 286.0L302.5 281.7L303.0 276.8L303.5 271.3L304.0 265.0L304.0 265.0L304.5 257.2L305.0 247.7L305.5 237.2L305.6 235.0L306.0 225.6L306.5 212.5L307.0 199.0L307.0 199.0L307.5 186.2L308.0 173.3L308.5 158.4L308.6 155.0L309.0 137.8L309.4 120.0L309.5 115.9L310.0 100.0L310.0 100.0L310.5 99.2L311.0 98.8L311.5 98.6L311.6 98.6L312.0 102.3L312.5 112.8L312.6 115.0L313.0 124.9L313.3 135.0L313.5 145.2L314.0 175.0L314.0 175.0L314.5 194.4L315.0 204.0L315.0 204.0L315.5 201.4L316.0 195.1L316.5 187.3L317.0 180.0L317.0 180.0L317.5 172.4L318.0 163.9L318.5 156.9L319.0 154.0L319.0 154.0L319.5 159.7L320.0 173.8L320.5 191.4L320.6 195.0L321.0 214.2L321.4 235.0L321.5 239.1L322.0 257.1L322.2 265.0L322.5 279.2L323.0 305.0L323.0 305.0L323.5 330.5L323.6 335.0L324.0 350.0L324.0 350.0L324.5 350.0L324.8 350.0L325.0 347.8L325.4 335.0L325.5 329.8L326.0 285.0L326.0 285.0L326.5 244.6L326.6 235.0L327.0 185.0L327.0 185.0L327.5 128.2L327.6 120.0L328.0 94.6L328.2 88.0L328.5 83.4L329.0 78.3L329.4 77.0L329.5 77.5L330.0 90.5L330.4 105.0L330.5 108.1L331.0 125.0L331.2 135.0L331.5 170.2L332.0 240.0L332.0 240.0L332.5 267.1L333.0 285.0L333.0 285.0L333.5 298.5L334.0 309.2L334.5 319.7L334.6 322.0L335.0 331.9L335.5 344.4L336.0 355.0L336.0 355.0L336.5 363.8L337.0 371.2L337.4 375.0L337.5 375.6L338.0 378.5L338.5 380.0L338.6 380.0L339.0 378.7L339.5 374.2L340.0 367.7L340.5 360.4L340.6 359.0L341.0 352.2L341.5 341.7L341.8 335.0L342.0 330.2L342.5 316.5L343.0 305.0L343.0 305.0L343.5 296.3L344.0 288.2L344.5 282.3L345.0 280.0L345.0 280.0L345.5 281.1L346.0 283.7L346.5 286.9L347.0 290.0L347.0 290.0L347.5 293.3L348.0 297.1L348.5 300.7L349.0 303.3L349.4 304.0L349.5 304.0L350.0 302.5L350.5 299.8L351.0 296.7L351.5 294.0L351.5 294.0L352.0 291.6L352.5 289.1L353.0 287.1L353.5 286.0L353.6 286.0L354.0 286.9L354.5 290.0L355.0 294.5L355.5 299.8L356.0 305.0L356.0 305.0L356.5 310.4L357.0 316.6L357.5 323.3L358.0 330.0L358.0 330.0L358.5 338.7L359.0 344.0L359.0 344.0L359.5 341.1L360.0 333.9L360.5 325.0L360.5 325.0L361.0 312.4L361.5 295.7L362.0 280.0L362.0 280.0L362.5 266.9L363.0 255.0L363.0 255.0L363.5 246.1L364.0 235.0L364.0 235.0L364.5 208.3L364.8 185.0L365.0 164.1L365.4 115.0L365.5 104.1L366.0 59.0L366.0 59.0L366.5 45.9L367.0 38.7L367.2 37.0L367.5 35.0L368.0 32.3L368.5 31.0L368.6 31.0L369.0 32.2L369.5 36.4L370.0 43.0L370.0 43.0L370.5 60.1L371.0 85.0L371.0 85.0L371.5 111.5L372.0 135.0L372.0 135.0L372.5 149.0L373.0 160.0L373.0 160.0L373.5 171.9L374.0 183.9L374.5 193.2L375.0 197.0L375.0 197.0L375.5 193.8L376.0 185.8L376.5 175.4L377.0 165.0L377.0 165.0L377.5 153.9L378.0 141.6L378.3 135.0L378.5 130.5L379.0 119.1L379.4 115.0L379.5 115.2L380.0 121.4L380.5 132.6L380.6 135.0L381.0 148.4L381.4 165.0L381.5 169.1L382.0 191.9L382.5 212.1L382.6 215.0L383.0 223.9L383.5 233.0L383.6 235.0L384.0 243.9L384.5 255.7L385.0 267.1L385.4 275.0L385.5 276.8L386.0 285.8L386.5 293.7L387.0 299.0L387.0 299.0L387.5 302.2L387.8 303.0L388.0 301.5L388.5 289.2L389.0 275.0L389.0 275.0L389.5 265.1L390.0 255.0L390.0 255.0L390.5 244.2L390.8 235.0L391.0 223.7L391.5 181.8L391.6 175.0L392.0 151.0L392.4 135.0L392.5 133.1L393.0 124.7L393.5 119.1L394.0 117.0L394.0 117.0L394.5 120.6L395.0 130.0L395.2 135.0L395.5 152.7L395.8 175.0L396.0 186.2L396.5 210.9L396.6 215.0L397.0 228.1L397.2 235.0L397.5 250.2L398.0 275.0L398.0 275.0L398.5 288.0L399.0 297.5L399.4 303.0L399.5 304.2L400.0 309.7L400.5 312.9L400.6 313.0L401.0 309.4L401.5 298.2L402.0 285.0L402.0 285.0L402.5 270.0L403.0 255.0L403.0 255.0L403.5 245.9L404.0 235.0L404.0 235.0L404.5 204.2L404.6 199.0L405.0 183.7L405.5 168.6L406.0 155.0L406.0 155.0L406.5 142.3L406.8 135.0L407.0 129.7L407.5 116.8L407.6 115.0L408.0 109.6L408.5 104.5L409.0 99.0L409.0 99.0L409.5 91.8L410.0 83.8L410.5 76.3L410.6 75.0L411.0 69.7L411.5 63.1L412.0 57.7L412.4 55.0L412.5 54.6L413.0 52.5L413.5 50.8L414.0 49.7L414.4 49.4L414.5 49.4L415.0 50.6L415.5 53.2L416.0 57.0L416.0 57.0L416.5 68.4L417.0 85.0L417.0 85.0L417.5 100.2L418.0 115.0L418.0 115.0L418.5 127.0L418.8 135.0L419.0 141.7L419.5 162.2L420.0 185.0L420.0 185.0L420.5 209.1L421.0 235.0L421.0 235.0L421.5 263.3L422.0 290.0L422.0 290.0L422.5 315.2L423.0 329.0L423.0 329.0L423.5 321.0L424.0 305.4L424.2 300.0L424.5 292.4L425.0 279.6L425.4 272.0L425.5 270.6L426.0 264.2L426.4 262.0L426.5 262.2L427.0 267.3L427.5 276.3L428.0 285.0L428.0 285.0L428.5 292.7L429.0 300.2L429.4 305.0L429.5 306.0L430.0 311.1L430.5 315.3L431.0 317.0L431.0 317.0L431.5 314.3L432.0 307.9L432.5 300.6L433.0 295.0L433.0 295.0L433.5 290.9L434.0 287.1L434.5 284.1L435.0 283.0L435.0 283.0L435.5 283.3L436.0 284.1L436.5 285.3L437.0 286.6L437.5 287.9L438.0 289.0L438.0 289.0L438.5 290.1L439.0 291.4L439.5 292.6L440.0 293.5L440.5 294.0L440.6 294.0L441.0 293.2L441.5 290.1L442.0 285.6L442.5 280.3L443.0 275.0L443.0 275.0L443.5 269.6L444.0 263.4L444.5 256.2L445.0 248.0L445.0 248.0L445.5 236.7L446.0 225.0L446.0 225.0L446.5 214.7L447.0 205.8L447.4 203.0L447.5 203.1L448.0 207.2L448.5 214.5L449.0 222.0L449.0 222.0L449.5 228.6L450.0 236.0L450.0 236.0L450.5 245.2L451.0 255.0L451.0 255.0L451.5 264.4L452.0 273.8L452.5 283.1L452.6 285.0L453.0 293.3L453.5 304.0L454.0 311.0L454.0 311.0L454.5 314.5L455.0 316.0L455.0 316.0L455.5 312.9L456.0 305.5L456.5 296.7L456.6 295.0L457.0 288.0L457.5 277.6L458.0 265.0L458.0 265.0L458.5 248.2L458.8 235.0L459.0 222.9L459.4 195.0L459.5 189.3L460.0 163.8L460.2 155.0L460.5 140.9L461.0 126.0L461.0 126.0L461.5 129.3L462.0 137.3L462.4 145.0L462.5 147.1L463.0 161.3L463.4 175.0L463.5 178.5L464.0 197.8L464.4 215.0L464.5 219.7L465.0 246.5L465.2 255.0L465.5 265.1L466.0 279.6L466.5 289.7L466.6 291.0L467.0 295.6L467.5 300.2L468.0 302.0L468.0 302.0L468.5 298.9L469.0 291.7L469.4 285.0L469.5 283.2L470.0 271.3L470.5 257.6L470.6 255.0L471.0 246.4L471.4 235.0L471.5 229.6L472.0 185.0L472.0 185.0L472.5 151.4L472.8 135.0L473.0 125.9L473.4 111.0L473.5 107.9L474.0 94.4L474.2 91.0L474.5 87.3L475.0 84.0L475.0 84.0L475.5 86.5L476.0 92.5L476.5 99.6L476.6 101.0L477.0 107.1L477.5 116.2L478.0 125.0L478.0 125.0L478.5 133.1L479.0 140.0L479.0 140.0L479.5 145.6L480.0 150.4L480.5 152.9L480.6 153.0L481.0 150.1L481.5 141.1L481.8 135.0L482.0 130.3L482.5 115.0L483.0 101.0L483.0 101.0L483.5 91.4L484.0 83.3L484.5 76.3L484.6 75.0L485.0 69.5L485.5 64.4L485.6 64.0L486.0 63.1L486.5 62.3L487.0 62.0L487.0 62.0L487.5 63.6L488.0 67.2L488.5 71.3L488.6 72.0L489.0 75.6L489.5 80.6L490.0 83.0L490.0 83.0L490.5 79.9L491.0 73.0L491.5 66.1L491.6 65.0L492.0 60.7L492.5 55.1L493.0 50.4L493.5 48.1L493.6 48.0L494.0 49.0L494.5 52.3L495.0 57.0L495.4 61.0L495.5 62.0L496.0 68.4L496.5 76.3L497.0 85.0L497.0 85.0L497.5 95.0L498.0 106.1L498.4 115.0L498.5 117.3L499.0 130.8L499.5 143.4L500.0 149.0L500.0 149.0L500.5 142.0L501.0 129.1L501.2 125.0L501.5 119.5L502.0 110.9L502.4 108.0L502.5 108.2L503.0 113.5L503.5 123.0L503.6 125.0L504.0 135.9L504.4 150.0L504.5 153.8L505.0 176.4L505.2 185.0L505.5 196.9L506.0 215.0L506.0 215.0L506.5 234.2L507.0 245.0L507.0 245.0L507.5 245.0L508.0 245.0L508.0 245.0L508.5 243.1L509.0 237.9L509.2 235.0L509.5 221.3L510.0 185.0L510.0 185.0L510.5 157.3L510.8 145.0L511.0 139.0L511.5 128.4L511.6 128.0L512.0 132.1L512.5 142.9L512.6 145.0L513.0 153.5L513.5 165.7L514.0 180.0L514.0 180.0L514.5 198.7L515.0 220.0L515.0 220.0L515.5 246.7L516.0 263.0L516.0 263.0L516.5 263.0L517.0 263.0L517.0 263.0L517.5 257.4L518.0 245.2L518.2 240.0L518.5 230.0L519.0 208.6L519.4 195.0L519.5 192.6L520.0 180.9L520.5 171.7L521.0 168.0L521.0 168.0L521.5 168.9L522.0 171.0L522.5 173.1L523.0 174.0L523.0 174.0L523.5 171.4L524.0 164.9L524.5 156.7L524.6 155.0L525.0 146.3L525.4 135.0L525.5 131.8L526.0 112.0L526.2 105.0L526.5 96.4L527.0 84.0L527.4 75.0L527.5 72.7L528.0 61.8L528.2 59.0L528.5 56.0L529.0 52.2L529.4 51.0L529.5 51.1L530.0 52.6L530.5 55.3L531.0 58.0L531.0 58.0L531.5 61.0L532.0 64.0L532.4 65.0L532.5 64.9L533.0 63.1L533.5 59.9L534.0 57.0L534.0 57.0L534.5 54.5L535.0 52.1L535.4 51.4L535.5 51.6L536.0 58.3L536.5 69.0L536.6 71.0L537.0 80.2L537.5 92.7L537.6 95.0L538.0 102.6L538.5 112.5L538.6 115.0L539.0 127.8L539.4 145.0L539.5 150.3L540.0 185.0L540.0 185.0L540.5 227.5L540.6 235.0L541.0 261.5L541.2 271.0L541.5 282.0L542.0 292.0L542.0 292.0L542.5 286.9L543.0 275.2L543.4 265.0L543.5 262.6L544.0 249.4L544.4 235.0L544.5 229.5L545.0 195.0L545.0 195.0L545.5 181.7L546.0 172.6L546.5 166.1L546.6 165.0L547.0 160.6L547.5 155.9L548.0 154.0L548.0 154.0L548.5 161.9L549.0 175.0L549.0 175.0L549.5 185.0L550.0 195.0L550.0 195.0L550.5 204.4L551.0 214.4L551.4 225.0L551.5 228.7L552.0 255.5L552.2 265.0L552.5 277.8L553.0 291.0L553.0 291.0L553.5 281.5L554.0 265.0L554.0 265.0L554.5 251.2L555.0 235.0L555.0 235.0L555.5 213.9L556.0 185.0L556.0 185.0L556.5 133.6L556.6 125.0L557.0 98.0L557.4 80.0L557.5 77.2L558.0 66.3L558.2 65.0L558.5 65.0L559.0 65.0L559.5 65.0L560.0 65.0L560.0 65.0L560.5 75.2L560.8 85.0L561.0 91.8L561.5 111.6L561.6 115.0L562.0 129.5L562.5 142.5L562.6 143.0L563.0 142.2L563.5 139.6L564.0 136.3L564.5 133.4L564.6 133.0L565.0 131.4L565.5 129.4L566.0 127.8L566.5 127.0L566.6 127.0L567.0 128.2L567.5 132.8L568.0 140.0L568.0 140.0L568.5 160.3L568.8 175.0L569.0 182.7L569.5 201.1L569.6 205.0L570.0 221.9L570.4 240.0L570.5 244.8L571.0 270.2L571.2 280.0L571.5 295.2L572.0 315.0L572.0 315.0L572.5 323.4L573.0 327.0L573.0 327.0L573.5 315.4L574.0 295.0L574.0 295.0L574.5 274.4L575.0 255.0L575.0 255.0L575.5 240.4L576.0 230.0L576.0 230.0L576.5 223.3L577.0 218.4L577.4 217.0L577.5 217.1L578.0 220.1L578.5 225.8L579.0 232.0L579.0 232.0L579.5 238.2L580.0 245.3L580.5 253.3L580.6 255.0L581.0 262.7L581.5 273.8L582.0 285.0L582.0 285.0L582.5 296.3L583.0 307.5L583.4 315.0L583.5 316.7L584.0 325.4L584.5 330.8L584.6 331.0L585.0 324.3L585.5 307.8L585.6 305.0L586.0 294.3L586.5 281.0L587.0 271.0L587.0 271.0L587.5 264.0L588.0 258.6L588.4 257.0L588.5 257.2L589.0 263.3L589.5 273.2L589.6 275.0L590.0 283.0L590.5 294.4L590.8 301.0L591.0 305.2L591.5 315.7L592.0 325.0L592.0 325.0L592.5 334.0L593.0 339.0L593.0 339.0L593.5 332.9L594.0 320.1L594.2 315.0L594.5 306.4L595.0 289.8L595.4 280.0L595.5 278.4L596.0 270.9L596.5 265.2L597.0 263.0L597.0 263.0L597.5 268.9L598.0 280.7L598.2 285.0L598.5 291.1L599.0 301.4L599.2 305.0L599.5 310.1L600.0 318.2L600.5 324.2L600.6 325.0L601.0 327.8L601.5 329.9L601.6 330.0L602.0 325.7L602.5 312.0L603.0 295.0L603.0 295.0L603.5 272.6L604.0 250.0L604.0 250.0L604.5 232.3L605.0 223.0L605.0 223.0L605.5 224.5L606.0 228.2L606.2 230.0L606.5 234.2L607.0 245.2L607.2 250.0L607.5 257.7L608.0 272.1L608.2 278.0L608.5 287.1L609.0 302.5L609.2 308.0L609.5 316.0L610.0 328.5L610.4 335.0L610.5 336.0L611.0 339.8L611.5 342.6L612.0 345.0L612.0 345.0L612.5 347.2L613.0 349.2L613.5 351.0L614.0 353.0L614.0 353.0L614.5 355.4L615.0 358.1L615.5 360.5L616.0 362.0L616.0 362.0L616.5 362.8L616.8 363.0L617.0 362.5L617.5 357.8L618.0 351.0L618.0 351.0L618.5 341.9L619.0 330.0L619.0 330.0L619.5 315.3L620.0 300.0L620.0 300.0L620.5 286.7L621.0 274.3L621.4 265.0L621.5 262.7L622.0 251.7L622.5 241.8L622.6 240.0L623.0 232.9L623.5 225.2L623.8 222.0L624.0 220.4L624.5 216.7L625.0 213.5L625.5 211.0L626.0 209.4L626.4 209.0L626.5 209.1L627.0 210.8L627.5 214.4L628.0 219.2L628.5 224.7L629.0 230.0L629.0 230.0L629.5 235.9L630.0 242.8L630.4 248.0L630.5 249.2L631.0 255.6L631.5 261.1L631.6 262.0L632.0 265.3L632.5 269.3L633.0 272.4L633.5 274.0L633.6 274.0L634.0 271.5L634.5 263.8L635.0 255.0L635.0 255.0L635.5 246.4L635.8 240.0L636.0 234.5L636.5 216.5L637.0 200.0L637.0 200.0L637.5 186.6L638.0 174.6L638.5 168.2L638.6 168.0L639.0 170.3L639.5 178.4L640.0 190.0L640.0 190.0L640.5 212.9L640.8 230.0L641.0 241.0L641.5 269.6L641.6 275.0L642.0 297.9L642.4 315.0L642.5 317.4L643.0 327.6L643.5 332.8L643.6 333.0L644.0 329.7L644.5 318.8L645.0 305.0L645.0 305.0L645.5 286.2L646.0 265.0L646.0 265.0L646.5 246.3L646.8 238.0L647.0 234.0L647.5 225.8L647.8 224.0L648.0 224.3L648.5 227.3L649.0 232.7L649.4 238.0L649.5 239.6L650.0 253.1L650.4 265.0L650.5 267.6L651.0 280.8L651.5 292.9L651.6 295.0L652.0 304.0L652.4 309.0L652.5 308.7L653.0 301.0L653.5 287.7L653.6 285.0L654.0 270.0L654.4 255.0L654.5 252.4L655.0 241.2L655.4 235.0L655.5 233.9L656.0 228.7L656.4 227.0L656.5 227.1L657.0 230.3L657.5 236.5L657.6 238.0L658.0 249.6L658.4 265.0L658.5 268.3L659.0 284.7L659.5 301.5L659.6 305.0L660.0 320.3L660.4 335.0L660.5 338.2L661.0 352.0L661.0 352.0L661.5 362.2L661.8 367.0L662.0 369.8L662.5 376.2L663.0 380.0L663.0 380.0L663.5 381.4L664.0 382.0L664.0 382.0L664.5 381.3L665.0 379.6L665.5 377.3L666.0 374.8L666.4 373.0L666.5 372.6L667.0 370.4L667.5 368.2L668.0 365.8L668.5 363.4L669.0 361.0L669.0 361.0L669.5 358.5L670.0 355.8L670.5 353.3L671.0 351.0L671.0 351.0L671.5 348.7L672.0 346.5L672.5 344.7L673.0 344.0L673.0 344.0L673.5 344.5L674.0 345.8L674.5 347.5L675.0 349.0L675.0 349.0L675.5 350.7L676.0 352.7L676.5 354.3L677.0 355.0L677.0 355.0L677.5 355.0L678.0 355.0L678.5 355.0L679.0 355.0L679.0 355.0L679.5 354.4L680.0 353.0L680.5 351.6L681.0 351.0L681.0 351.0L681.5 351.2L682.0 351.6L682.5 352.3L683.0 353.0L683.0 353.0L683.5 354.0L684.0 355.5L684.5 357.2L685.0 359.0L685.0 359.0L685.5 360.8L686.0 362.9L686.5 364.9L687.0 367.0L687.0 367.0L687.5 369.1L688.0 371.2L688.5 373.3L689.0 375.0L689.0 375.0L689.5 376.6L690.0 378.1L690.5 379.4L691.0 380.0L691.0 380.0L691.5 380.2L692.0 380.4L692.5 380.6L693.0 380.6L693.0 380.6L693.5 380.5L694.0 380.4L694.5 380.1L695.0 379.8L695.5 379.5L696.0 379.3L696.5 379.1L697.0 379.0L697.0 379.0L697.5 379.0L698.0 379.1L698.5 379.1L699.0 379.2L699.5 379.3L700.0 379.4L700.0 379.4L700.5 379.7L701.0 380.1L701.5 380.5L702.0 380.9L702.4 381.0L702.5 381.0L703.0 380.2L703.5 378.6L704.0 377.0L704.0 377.0L704.5 375.0L705.0 372.6L705.5 370.4L706.0 369.0L706.0 369.0L706.5 368.2L707.0 367.6L707.5 367.2L708.0 367.0L708.0 367.0L708.5 367.2L709.0 367.6L709.5 368.3L710.0 369.0L710.0 369.0L710.5 370.1L711.0 371.6L711.5 373.4L712.0 375.0L712.0 375.0L712.5 376.6L713.0 378.1L713.5 379.7L714.0 381.0L714.0 381.0L714.5 382.3L715.0 383.6L715.5 384.6L716.0 385.0L716.0 385.0L716.5 385.0L717.0 385.0L717.5 385.0L718.0 385.0L718.5 385.0L719.0 385.0L719.0 385.0L719.5 385.1L720.0 385.5L720.5 386.1L721.0 386.7L721.5 387.4L722.0 388.0L722.0 388.0L722.5 388.7L723.0 389.6L723.5 390.3L724.0 390.6L724.0 390.6L724.5 390.3L725.0 389.4L725.5 388.2L726.0 387.0L726.0 387.0L726.5 385.3L727.0 383.2L727.5 381.2L728.0 380.0L728.0 380.0L728.5 379.5L729.0 379.2L729.5 379.0L729.6 379.0L730.0 379.3L730.5 380.2L731.0 381.4L731.5 382.8L731.6 383.0L732.0 384.0L732.5 385.5L733.0 387.1L733.5 388.6L734.0 390.0L734.0 390.0L734.5 391.3L735.0 392.6L735.5 393.8L736.0 395.0L736.5 396.0L737.0 397.0L737.0 397.0L737.5 397.9L738.0 398.8L738.5 399.6L739.0 400.3L739.5 400.9L740.0 401.4L740.0 401.4L740.5 401.8L741.0 402.1L741.5 402.4L742.0 402.6L742.4 402.6L742.5 402.6L743.0 402.3L743.5 401.7L744.0 400.9L744.5 399.9L745.0 399.0L745.0 399.0L745.5 398.0L746.0 396.7L746.5 395.3L747.0 393.9L747.5 392.4L748.0 391.0L748.0 391.0L748.5 389.6L749.0 388.2L749.5 386.8L750.0 385.4L750.5 384.1L751.0 383.0L751.0 383.0L751.5 382.0L752.0 381.1L752.5 380.3L753.0 379.5L753.5 378.7L754.0 378.0L754.0 378.0L754.5 377.3L755.0 376.5L755.5 375.8L756.0 375.1L756.5 374.5L757.0 374.0L757.0 374.0L757.5 373.5L758.0 373.1L758.5 372.8L759.0 372.6L759.0 372.6L759.5 372.5L760.0 372.4L760.5 372.4L760.6 372.4L761.0 372.4L761.5 372.6L762.0 372.9L762.5 373.2L763.0 373.6L763.0 373.6L763.5 374.1L764.0 374.7L764.5 375.5L765.0 376.4L765.5 377.4L766.0 378.4L766.0 378.4L766.5 379.5L767.0 380.7L767.5 382.0L768.0 383.3L768.4 384.4L768.5 384.7L769.0 386.2L769.5 387.9L770.0 389.5L770.5 390.9L770.8 391.6L771.0 392.0L771.5 392.8L772.0 393.6L772.5 394.3L773.0 394.9L773.2 395.2L773.5 395.6L774.0 396.2L774.5 396.8L775.0 397.5L775.5 398.1L775.6 398.2L776.0 398.7L776.5 399.4L777.0 400.0L777.5 400.7L778.0 401.4L778.5 402.0L779.0 402.7L779.2 403.0L779.5 403.4L780.0 404.2L780.5 405.0L781.0 405.8L781.5 406.5L782.0 407.0L782.2 407.2L782.5 407.5L783.0 407.9L783.5 408.2L784.0 408.5L784.5 408.6L784.6 408.6L785.0 408.5L785.5 407.9L786.0 406.9L786.5 405.9L787.0 404.8L787.0 404.8L787.5 403.7L788.0 402.3L788.5 400.9L788.8 400.0L789.0 399.4L789.5 397.7L790.0 395.9L790.5 394.3L790.6 394.0L791.0 392.8L791.5 391.4L792.0 390.5L792.2 390.4L792.5 390.5L793.0 390.8L793.5 391.3L794.0 391.9L794.2 392.2L794.5 392.8L795.0 394.6L795.5 396.7L796.0 398.8L796.0 398.8L796.5 400.8L797.0 402.9L797.5 404.9L797.8 406.0L798.0 406.7L798.5 408.5L799.0 410.3L799.5 411.7L799.6 412.0L800.0 413.0L800.5 414.1L801.0 415.1L801.5 416.0L802.0 416.8L802.0 416.8L802.5 417.5L803.0 418.1L803.5 418.7L804.0 419.1L804.5 419.5L805.0 419.8L805.0 419.8L805.5 420.0L806.0 420.2L806.5 420.3L807.0 420.4L807.4 420.4L807.5 420.4L808.0 420.3L808.5 420.1L809.0 419.8L809.5 419.5L809.8 419.4L810.0 419.4L810.5 419.2L811.0 419.1L811.5 419.0L812.0 419.0L812.2 419.0L812.5 419.0L813.0 419.2L813.5 419.5L814.0 419.8L814.0 419.8L814.5 420.4L815.0 421.3L815.5 422.3L815.8 422.8L816.0 423.1L816.5 424.0L817.0 424.7L817.5 425.2L817.6 425.2L818.0 425.3L818.5 425.3L819.0 425.4L819.5 425.4L820.0 425.5L820.5 425.5L821.0 425.5L821.5 425.5L822.0 425.6L822.4 425.6L822.5 425.6L823.0 425.6L823.5 425.6L824.0 425.6L824.5 425.6L825.0 425.6L825.5 425.6L826.0 425.6L826.5 425.6L827.0 425.6L827.5 425.6L828.0 425.6L828.5 425.6L829.0 425.6L829.5 425.6L830.0 425.6L830.5 425.6L831.0 425.6L831.4 425.6"/>
</g>
<rect x="75.5" y="35.5" width="771" height="391" fill="none" stroke="#555" stroke-width="1"/>
<path d="M71.5 35V427M850.5 35V427M75 430.5H847" stroke="#b0b0b0" stroke-width="1" fill="none"/>
<path d="M69 426.5H71M69 401.5H71M69 376.5H71M69 351.5H71M69 327.5H71M69 302.5H71M69 277.5H71M69 252.5H71M69 227.5H71M69 202.5H71M69 177.5H71M69 152.5H71M69 128.5H71M69 103.5H71M69 78.5H71M69 53.5H71M851 426.5H853M851 389.5H853M851 351.5H853M851 314.5H853M851 277.5H853M851 239.5H853M851 202.5H853M851 165.5H853M851 128.5H853M851 90.5H853M851 53.5H853M123.5 431V433M175.5 431V433M226.5 431V433M277.5 431V433M328.5 431V433M379.5 431V433M430.5 431V433M481.5 431V433M532.5 431V433M584.5 431V433M635.5 431V433M686.5 431V433M737.5 431V433M788.5 431V433M839.5 431V433" stroke="#b0b0b0" stroke-width="1" fill="none"/>
<g font-size="12" fill="#404040" text-anchor="end">
<text x="64.5" y="430.6" textLength="7.6" lengthAdjust="spacingAndGlyphs">0</text>
<text x="64.5" y="405.7" textLength="21.6" lengthAdjust="spacingAndGlyphs">200</text>
<text x="64.5" y="380.9" textLength="21.6" lengthAdjust="spacingAndGlyphs">400</text>
<text x="64.5" y="356.0" textLength="21.6" lengthAdjust="spacingAndGlyphs">600</text>
<text x="64.5" y="331.1" textLength="21.6" lengthAdjust="spacingAndGlyphs">800</text>
<text x="64.5" y="306.3" textLength="32.4" lengthAdjust="spacingAndGlyphs">1,000</text>
<text x="64.5" y="281.4" textLength="32.4" lengthAdjust="spacingAndGlyphs">1,200</text>
<text x="64.5" y="256.5" textLength="32.4" lengthAdjust="spacingAndGlyphs">1,400</text>
<text x="64.5" y="231.7" textLength="32.4" lengthAdjust="spacingAndGlyphs">1,600</text>
<text x="64.5" y="206.8" textLength="32.4" lengthAdjust="spacingAndGlyphs">1,800</text>
<text x="64.5" y="181.9" textLength="32.4" lengthAdjust="spacingAndGlyphs">2,000</text>
<text x="64.5" y="157.1" textLength="32.4" lengthAdjust="spacingAndGlyphs">2,200</text>
<text x="64.5" y="132.2" textLength="32.4" lengthAdjust="spacingAndGlyphs">2,400</text>
<text x="64.5" y="107.3" textLength="32.4" lengthAdjust="spacingAndGlyphs">2,600</text>
<text x="64.5" y="82.5" textLength="32.4" lengthAdjust="spacingAndGlyphs">2,800</text>
<text x="64.5" y="57.6" textLength="32.4" lengthAdjust="spacingAndGlyphs">3,000</text>
</g>
<g font-size="10" fill="#000">
<text x="855.8" y="429.8" textLength="5.8" lengthAdjust="spacingAndGlyphs">0</text>
<text x="855.8" y="392.5" textLength="5.8" lengthAdjust="spacingAndGlyphs">5</text>
<text x="855.8" y="355.2" textLength="11.6" lengthAdjust="spacingAndGlyphs">10</text>
<text x="855.8" y="317.9" textLength="11.6" lengthAdjust="spacingAndGlyphs">15</text>
<text x="855.8" y="280.6" textLength="11.6" lengthAdjust="spacingAndGlyphs">20</text>
<text x="855.8" y="244.1" textLength="11.6" lengthAdjust="spacingAndGlyphs">25</text>
<text x="855.8" y="206.0" textLength="11.6" lengthAdjust="spacingAndGlyphs">30</text>
<text x="855.8" y="168.7" textLength="11.6" lengthAdjust="spacingAndGlyphs">35</text>
<text x="855.8" y="131.4" textLength="11.6" lengthAdjust="spacingAndGlyphs">40</text>
<text x="855.8" y="94.1" textLength="11.6" lengthAdjust="spacingAndGlyphs">45</text>
<text x="855.8" y="56.8" textLength="11.6" lengthAdjust="spacingAndGlyphs">50</text>
</g>
<g font-size="12" fill="#404040" text-anchor="middle">
<text x="123.8" y="446" textLength="31" lengthAdjust="spacingAndGlyphs">07:00</text>
<text x="175.8" y="446" textLength="31" lengthAdjust="spacingAndGlyphs">08:00</text>
<text x="226.8" y="446" textLength="31" lengthAdjust="spacingAndGlyphs">09:00</text>
<text x="277.8" y="446" textLength="31" lengthAdjust="spacingAndGlyphs">10:00</text>
<text x="328.8" y="446" textLength="31" lengthAdjust="spacingAndGlyphs">11:00</text>
<text x="379.8" y="446" textLength="31" lengthAdjust="spacingAndGlyphs">12:00</text>
<text x="430.8" y="446" textLength="31" lengthAdjust="spacingAndGlyphs">13:00</text>
<text x="481.8" y="446" textLength="31" lengthAdjust="spacingAndGlyphs">14:00</text>
<text x="532.8" y="446" textLength="31" lengthAdjust="spacingAndGlyphs">15:00</text>
<text x="584.8" y="446" textLength="31" lengthAdjust="spacingAndGlyphs">16:00</text>
<text x="635.8" y="446" textLength="31" lengthAdjust="spacingAndGlyphs">17:00</text>
<text x="686.8" y="446" textLength="31" lengthAdjust="spacingAndGlyphs">18:00</text>
<text x="737.8" y="446" textLength="31" lengthAdjust="spacingAndGlyphs">19:00</text>
<text x="788.8" y="446" textLength="31" lengthAdjust="spacingAndGlyphs">20:00</text>
<text x="839.8" y="446" textLength="31" lengthAdjust="spacingAndGlyphs">21:00</text>
</g>
<text x="460.7" y="464.6" font-size="14.4" text-anchor="middle" textLength="29.2" lengthAdjust="spacingAndGlyphs" fill="#333" stroke="#333" stroke-width="0.55">time</text>
<text transform="translate(25.0 231.2) rotate(-90)" font-size="14.4" text-anchor="middle" textLength="32.6" lengthAdjust="spacingAndGlyphs" fill="#333" stroke="#333" stroke-width="0.55">Watt</text>
<text transform="translate(885.2 230.4) rotate(-90)" font-size="11.6" text-anchor="middle" fill="#000">%</text>
<rect x="121.5" y="477.5" width="658" height="21" fill="#fff" stroke="#000" stroke-width="1"/>
<path d="M124 487.5H140" stroke="#cc00cc" stroke-width="2"/>
<path d="M452 487.5H468" stroke="#0033cc" stroke-width="2"/>
<g font-size="11" fill="#333">
<text x="142.6" y="492" textLength="54.0" lengthAdjust="spacingAndGlyphs">SB3000TL</text>
<text x="197.8" y="492" textLength="22.2" lengthAdjust="spacingAndGlyphs">-20-</text>
<text x="220.6" y="492" textLength="14.6" lengthAdjust="spacingAndGlyphs">SN</text>
<text x="235.6" y="492" textLength="67.6" lengthAdjust="spacingAndGlyphs">2100578613</text>
<text x="303.8" y="492" textLength="21.4" lengthAdjust="spacingAndGlyphs">_21</text>
<text x="326.0" y="492" textLength="38.2" lengthAdjust="spacingAndGlyphs">panels(</text>
<text x="370.6" y="492" textLength="37.6" lengthAdjust="spacingAndGlyphs">14.730</text>
<text x="413.0" y="492" textLength="24.2" lengthAdjust="spacingAndGlyphs">kWh</text>
<text x="442.2" y="492" textLength="4.2" lengthAdjust="spacingAndGlyphs">)</text>
<text x="470.6" y="492" textLength="54.0" lengthAdjust="spacingAndGlyphs">SB3000TL</text>
<text x="525.8" y="492" textLength="22.2" lengthAdjust="spacingAndGlyphs">-21-</text>
<text x="548.6" y="492" textLength="14.6" lengthAdjust="spacingAndGlyphs">SN</text>
<text x="563.6" y="492" textLength="67.6" lengthAdjust="spacingAndGlyphs">2130032031</text>
<text x="631.8" y="492" textLength="21.4" lengthAdjust="spacingAndGlyphs">_19</text>
<text x="654.0" y="492" textLength="38.2" lengthAdjust="spacingAndGlyphs">panels(</text>
<text x="698.6" y="492" textLength="37.6" lengthAdjust="spacingAndGlyphs">14.062</text>
<text x="741.0" y="492" textLength="24.2" lengthAdjust="spacingAndGlyphs">kWh</text>
<text x="770.2" y="492" textLength="4.2" lengthAdjust="spacingAndGlyphs">)</text>
</g>
</svg></body></html>
